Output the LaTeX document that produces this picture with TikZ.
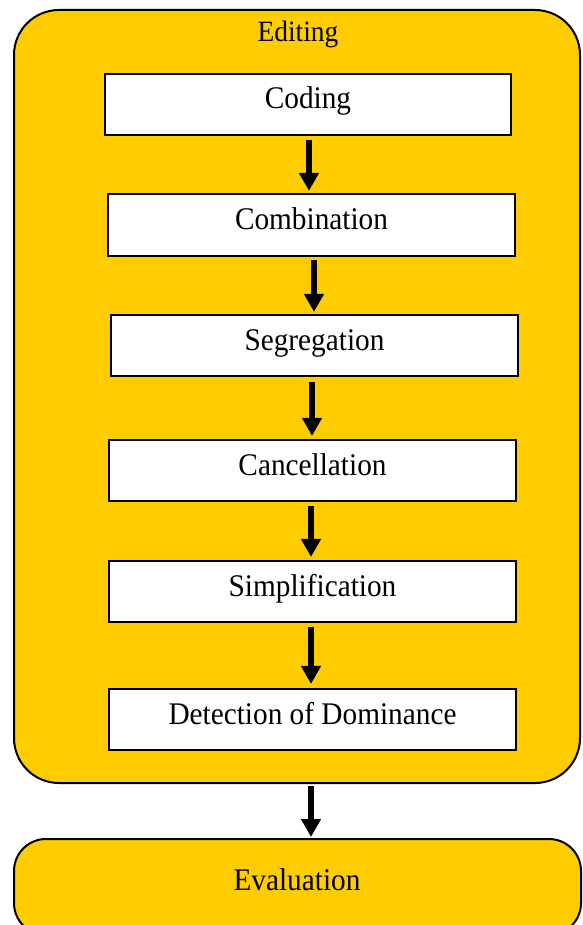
\documentclass[tikz,border=0pt]{standalone}
\usepackage{fontspec}
\setmainfont[FakeStretch=0.93]{Liberation Serif}
\usetikzlibrary{arrows.meta}
\definecolor{gold}{HTML}{FFCC00}
\begin{document}
\begin{tikzpicture}[x=1pt,y=-1pt,
  container/.style={draw=black,line width=2pt,fill=gold,rounded corners=45pt,inner sep=0pt},
  stepbox/.style={draw=black,line width=2.2pt,fill=white,minimum width=406pt,minimum height=61pt,
     inner sep=0pt,font=\fontsize{31.5}{36}\selectfont,text height=22pt,text depth=13pt},
  lbl/.style={anchor=base,inner sep=0pt},
  arr/.style={line width=6pt,-{Triangle[width=19pt,length=18pt]}}]
\useasboundingbox (0,0) rectangle (582,925);
\node[container,minimum width=566pt,minimum height=773pt] (editing) at (297,396.5) {};
\node[lbl,font=\fontsize{29.5}{34}\selectfont] (editlabel) at (298,42) {Editing};
\node[container,rounded corners=32pt,minimum width=567pt,minimum height=96pt] (eval) at (297.5,887) {};
\node[lbl,font=\fontsize{31.5}{36}\selectfont] (evallabel) at (297,890) {Evaluation};
\node[stepbox] (coding) at (308,104.5) {Coding};
\node[stepbox,minimum width=407pt,minimum height=62pt] (combination) at (311.5,225) {Combination};
\node[stepbox,minimum width=407pt] (segregation) at (314.5,345.5) {Segregation};
\node[stepbox,minimum width=407pt] (cancellation) at (312.5,470.5) {Cancellation};
\node[stepbox,minimum width=407pt] (simplification) at (312.5,591.5) {Simplification};
\node[stepbox,minimum width=407pt] (detection) at (312.5,719.5) {Detection of Dominance};
\draw[arr] ([xshift=1pt,yshift=-4pt]coding.south) -- ([xshift=-2.5pt,yshift=2pt]combination.north);
\draw[arr] ([xshift=2.5pt,yshift=-3pt]combination.south) -- ([xshift=-0.5pt,yshift=2pt]segregation.north);
\draw[arr] ([xshift=-2.5pt,yshift=-5pt]segregation.south) -- ([xshift=-0.5pt,yshift=3pt]cancellation.north);
\draw[arr] ([xshift=-1.5pt,yshift=-4pt]cancellation.south) -- ([xshift=-1.5pt,yshift=3pt]simplification.north);
\draw[arr] ([xshift=-1.5pt,yshift=-4pt]simplification.south) -- ([xshift=-1.5pt,yshift=4pt]detection.north);
\draw[arr] ([xshift=14pt,yshift=-2pt]editing.south) -- ([xshift=13.5pt,yshift=1pt]eval.north);
\end{tikzpicture}
\end{document}
